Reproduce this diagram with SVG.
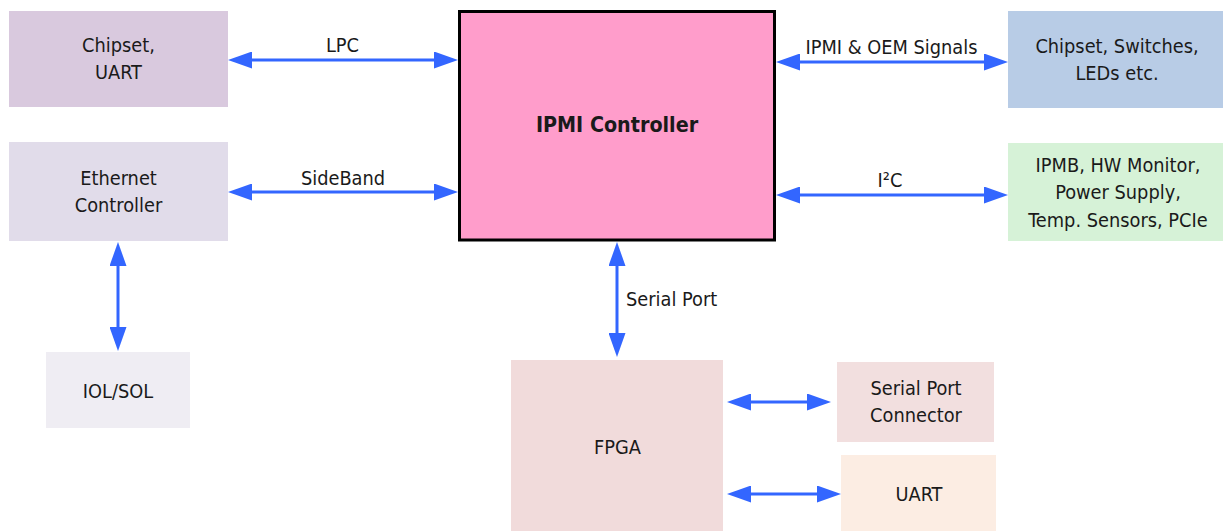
<svg xmlns="http://www.w3.org/2000/svg" width="1223" height="531" viewBox="0 0 1223 531">
  <style>
    text { font-family: "DejaVu Sans Condensed", "DejaVu Sans", sans-serif; font-stretch: condensed; font-size: 19.8px; fill: #1a1a1a; text-anchor: middle; }
    .title { font-weight: bold; font-size: 21.3px; }
    .conn { stroke: #3366ff; stroke-width: 3; fill: none; marker-start: url(#ah); marker-end: url(#ah); }
  </style>
  <defs>
    <marker id="ah" viewBox="0 0 24 17" refX="12" refY="8.5" markerWidth="24" markerHeight="17" markerUnits="userSpaceOnUse" orient="auto-start-reverse">
      <path d="M0,0 L24,8.5 L0,17 z" fill="#3366ff"/>
    </marker>
  </defs>
  <rect width="1223" height="531" fill="#ffffff"/>

  <g id="chipset-uart">
    <rect x="9" y="11" width="219" height="96" fill="#d9c9de"/>
    <text x="118.5" y="52">Chipset,</text>
    <text x="118.5" y="79">UART</text>
  </g>
  <g id="ethernet-controller">
    <rect x="9" y="142" width="219" height="99" fill="#e1dcea"/>
    <text x="118.5" y="185">Ethernet</text>
    <text x="118.5" y="212">Controller</text>
  </g>
  <g id="iol-sol">
    <rect x="46" y="352" width="144" height="76" fill="#efedf3"/>
    <text x="118" y="398">IOL/SOL</text>
  </g>
  <g id="ipmi-controller">
    <rect x="459.5" y="11.5" width="315" height="228.5" fill="#ff9dcb" stroke="#000000" stroke-width="3"/>
    <text class="title" x="617" y="132">IPMI Controller</text>
  </g>
  <g id="chipset-switches">
    <rect x="1008" y="11" width="215" height="97" fill="#b8cce6"/>
    <text x="1117" y="53">Chipset, Switches,</text>
    <text x="1117" y="80">LEDs etc.</text>
  </g>
  <g id="ipmb">
    <rect x="1008" y="143" width="215" height="98" fill="#d6f2d7"/>
    <text x="1118" y="172">IPMB, HW Monitor,</text>
    <text x="1118" y="199">Power Supply,</text>
    <text x="1118" y="226.5">Temp. Sensors, PCIe</text>
  </g>
  <g id="fpga">
    <rect x="511" y="360" width="212" height="171" fill="#f1dbdb"/>
    <text x="617.5" y="454">FPGA</text>
  </g>
  <g id="serial-port-connector">
    <rect x="837" y="362" width="157" height="80" fill="#f2dfdf"/>
    <text x="916" y="395">Serial Port</text>
    <text x="916" y="421.5">Connector</text>
  </g>
  <g id="uart">
    <rect x="841" y="455" width="155" height="76" fill="#fcede3"/>
    <text x="919" y="500.5">UART</text>
  </g>

  <g id="connectors">
    <path class="conn" d="M240,60 H446"/>
    <path class="conn" d="M240,192 H446"/>
    <path class="conn" d="M788,62 H996"/>
    <path class="conn" d="M788,195 H996"/>
    <path class="conn" d="M617,254 V345"/>
    <path class="conn" d="M118,254 V339"/>
    <path class="conn" d="M739,402 H819"/>
    <path class="conn" d="M739,494 H829"/>
    <text x="342.5" y="52">LPC</text>
    <text x="343" y="185">SideBand</text>
    <text x="891.5" y="54">IPMI &amp; OEM Signals</text>
    <text x="890" y="187">I²C</text>
    <text x="626" y="305.5" style="text-anchor:start">Serial Port</text>
  </g>
</svg>
